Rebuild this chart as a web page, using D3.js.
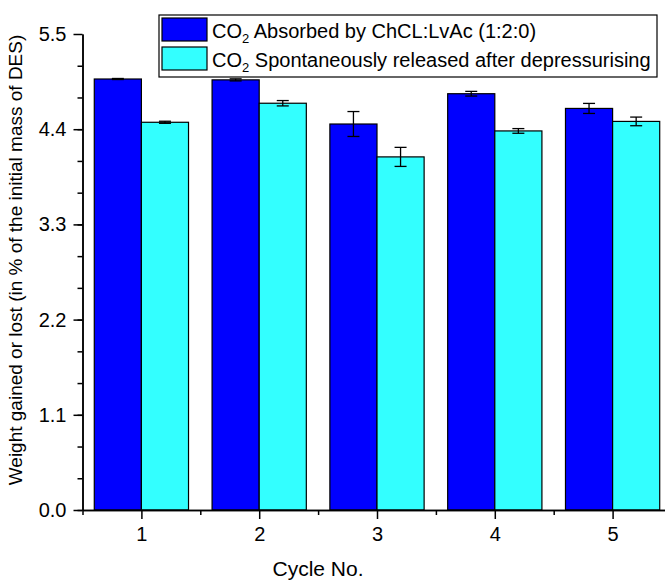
<!DOCTYPE html>
<html>
<head>
<meta charset="utf-8">
<script src="https://cdn.jsdelivr.net/npm/d3@7"></script>
<style>
    body { margin: 0; background: #fff; }
    svg { display: block; font-family: "Liberation Sans", Arial, sans-serif; }
    .axis path, .axis line { stroke: #000; stroke-width: 1.5; }
    .axis text { font-size: 20px; fill: #000; }
</style>
</head>
<body>
<svg id="chart"></svg>
<script>
const cycles = [1, 2, 3, 4, 5];
const absorbed = [4.98, 4.97, 4.46, 4.81, 4.64];
const absorbedErr = [0.006, 0.012, 0.144, 0.027, 0.058];
const released = [4.48, 4.70, 4.08, 4.38, 4.49];
const releasedErr = [0.012, 0.031, 0.11, 0.027, 0.05];
const yTicks = [0, 1.1, 2.2, 3.3, 4.4, 5.5];
const seriesNames = ['Absorbed by ChCL:LvAc (1:2:0)', 'Spontaneously released after depressurising'];
const colors = ['#0000ff', '#33ffff'];

const fullWidth = 665;
const fullHeight = 581;

const x = d3.scaleLinear()
    .domain([0.5, 5.5])
    .range([82.5, 671.5]);

const y = d3.scaleLinear()
    .domain([0, 5.5])
    .range([510, 34]);

const barWidth = x(0.4) - x(0);

const svg = d3.select('#chart')
    .attr('width', fullWidth)
    .attr('height', fullHeight);

const series = [
    {name: seriesNames[0], color: colors[0], values: absorbed, errors: absorbedErr, offset: -barWidth},
    {name: seriesNames[1], color: colors[1], values: released, errors: releasedErr, offset: 0},
];

// bars
const gSeries = svg.selectAll('.series').data(series)
    .enter().append('g')
    .attr('class', 'series');

gSeries.selectAll('rect')
    .data(s => cycles.map((c, i) => ({c, v: s.values[i], e: s.errors[i], s})))
    .enter().append('rect')
    .attr('x', d => x(d.c) + d.s.offset)
    .attr('y', d => y(d.v))
    .attr('width', barWidth)
    .attr('height', d => y(0) - y(d.v))
    .attr('fill', d => d.s.color)
    .attr('stroke', '#000')
    .attr('stroke-width', 1.2);

// error bars
const capHalf = 6;
const err = gSeries.selectAll('.err')
    .data(s => cycles.map((c, i) => ({c, v: s.values[i], e: s.errors[i], s})))
    .enter().append('g')
    .attr('class', 'err')
    .attr('stroke', '#000')
    .attr('stroke-width', 1.3);

err.append('line')
    .attr('x1', d => x(d.c) + d.s.offset + barWidth / 2)
    .attr('x2', d => x(d.c) + d.s.offset + barWidth / 2)
    .attr('y1', d => y(d.v + d.e))
    .attr('y2', d => y(d.v - d.e));

[1, -1].forEach(sign => {
    err.append('line')
        .attr('x1', d => x(d.c) + d.s.offset + barWidth / 2 - capHalf)
        .attr('x2', d => x(d.c) + d.s.offset + barWidth / 2 + capHalf)
        .attr('y1', d => y(d.v + sign * d.e))
        .attr('y2', d => y(d.v + sign * d.e));
});

// axes
const xAxis = d3.axisBottom(x)
    .tickValues(cycles)
    .tickFormat(d3.format('d'))
    .tickSizeInner(9)
    .tickSizeOuter(0)
    .tickPadding(8);

const xMinor = d3.axisBottom(x)
    .tickValues(d3.range(0.5, 5.6, 1))
    .tickFormat('')
    .tickSizeInner(5)
    .tickSizeOuter(0);

const yAxis = d3.axisLeft(y)
    .tickValues(yTicks)
    .tickFormat(d3.format('.1f'))
    .tickSizeInner(9)
    .tickSizeOuter(0)
    .tickPadding(7);

const yMinor = d3.axisLeft(y)
    .tickValues(d3.range(0, 5.5, 1.1 / 3))
    .tickFormat('')
    .tickSizeInner(5)
    .tickSizeOuter(0);

svg.append('g')
    .attr('class', 'axis axis--x-minor')
    .attr('transform', `translate(0, ${y(0)})`)
    .call(xMinor);

svg.append('g')
    .attr('class', 'axis axis--x')
    .attr('transform', `translate(0, ${y(0)})`)
    .call(xAxis);

svg.append('g')
    .attr('class', 'axis axis--y-minor')
    .attr('transform', `translate(${x(0.5)}, 0)`)
    .call(yMinor);

svg.append('g')
    .attr('class', 'axis axis--y')
    .attr('transform', `translate(${x(0.5)}, 0)`)
    .call(yAxis);

// axis titles
svg.append('text')
    .attr('x', 318)
    .attr('y', 576)
    .attr('text-anchor', 'middle')
    .attr('font-size', 21)
    .text('Cycle No.');

svg.append('text')
    .attr('transform', 'translate(22, 260) rotate(-90)')
    .attr('text-anchor', 'middle')
    .attr('font-size', 19)
    .text('Weight gained or lost (in % of the initial mass of DES)');

// legend
const legend = svg.append('g')
    .attr('class', 'legend')
    .attr('transform', 'translate(159, 15)');

legend.append('rect')
    .attr('width', 498)
    .attr('height', 62)
    .attr('fill', '#fff')
    .attr('stroke', '#000')
    .attr('stroke-width', 1.2);

const item = legend.selectAll('.item').data(series)
    .enter().append('g')
    .attr('class', 'item')
    .attr('transform', (d, i) => `translate(3, ${3 + i * 29})`);

item.append('rect')
    .attr('width', 45)
    .attr('height', 23)
    .attr('fill', d => d.color)
    .attr('stroke', '#000')
    .attr('stroke-width', 1.2);

const label = item.append('text')
    .attr('x', 50)
    .attr('y', 20)
    .attr('font-size', 20);

label.append('tspan').text('CO');
label.append('tspan')
    .attr('font-size', 13)
    .attr('dy', 5)
    .text('2');
label.append('tspan')
    .attr('dy', -5)
    .text(d => ' ' + d.name);
</script>
</body>
</html>
